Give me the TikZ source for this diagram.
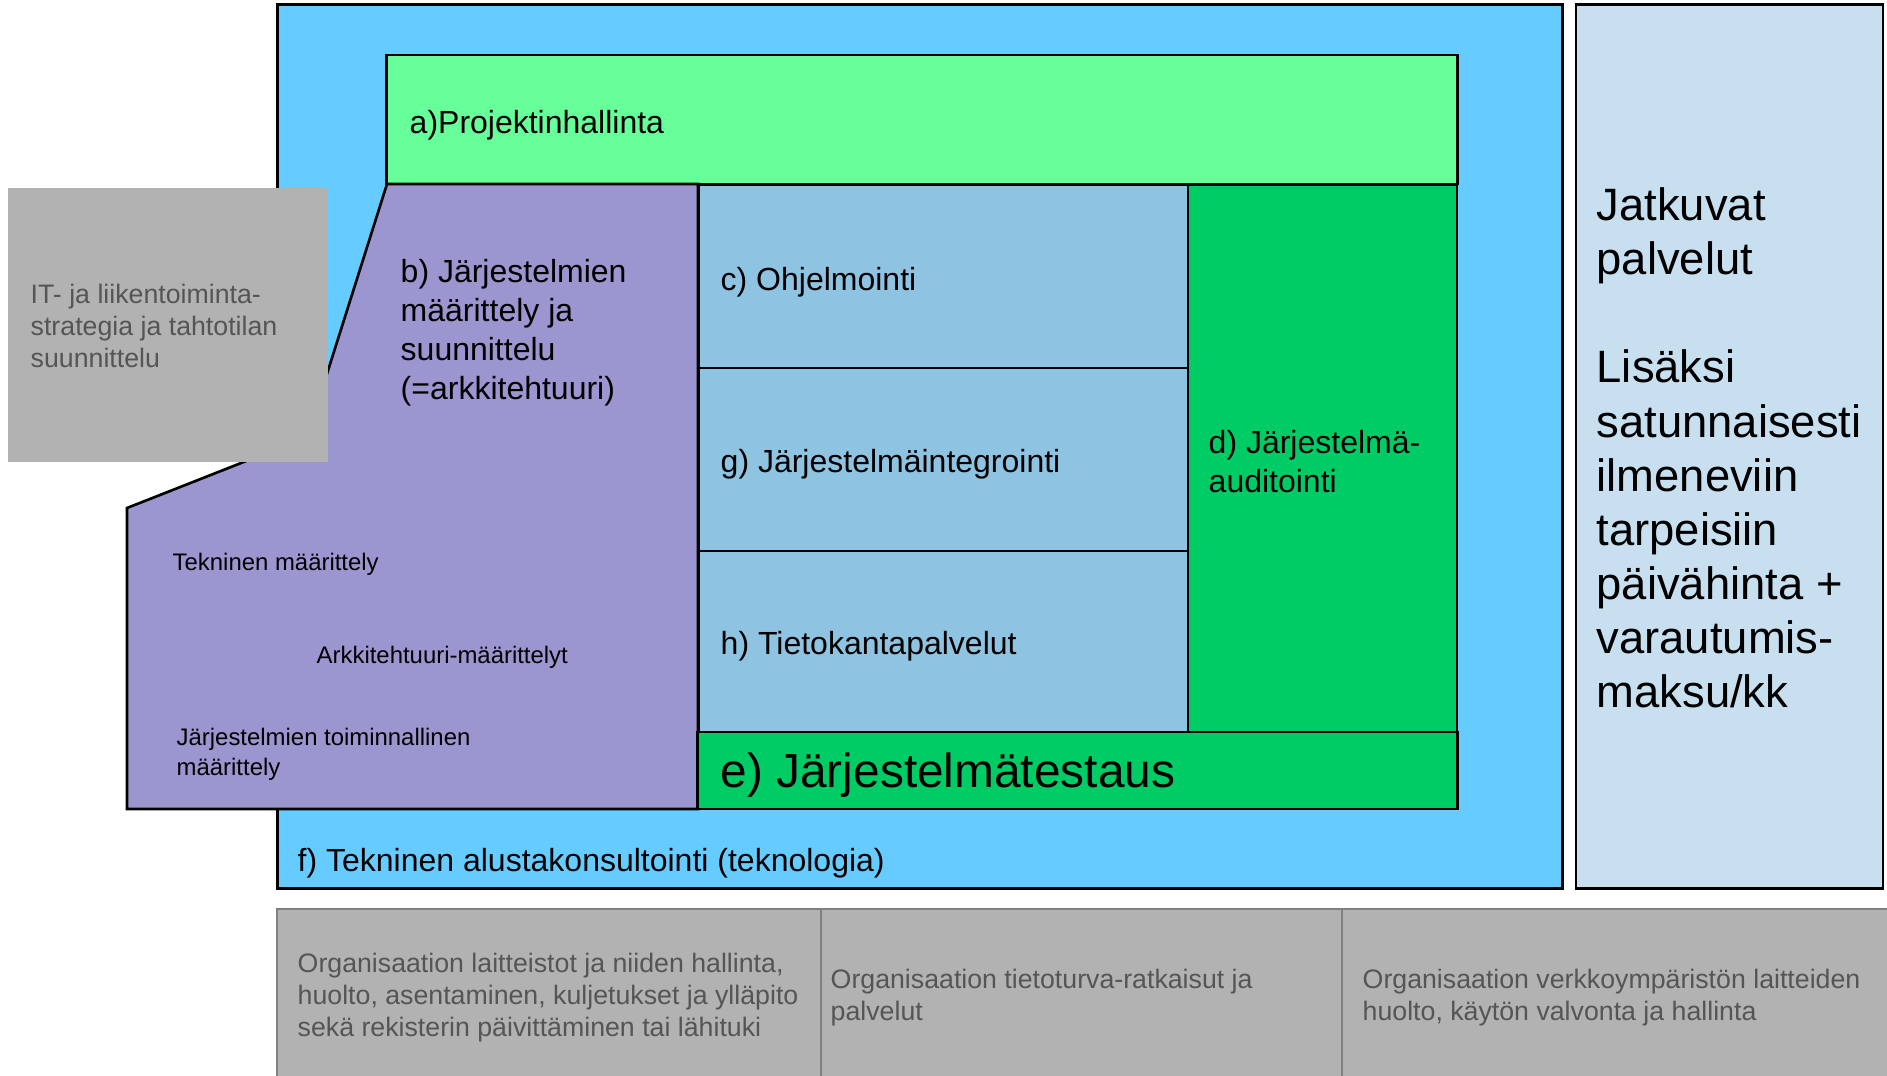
\documentclass[tikz,border=0pt]{standalone}
\usepackage{fontspec}
\setmainfont{Liberation Sans}
\usetikzlibrary{positioning}
\definecolor{ulkoSin}{HTML}{66CCFF}
\definecolor{vaaleaVihr}{HTML}{66FF99}
\definecolor{violetti}{HTML}{9B96CF}
\definecolor{teraSin}{HTML}{8EC3E1}
\definecolor{tummaVihr}{HTML}{00CC66}
\definecolor{jaaSin}{HTML}{C7DFEF}
\definecolor{harmaa}{HTML}{B2B2B2}
\definecolor{harmaaTeksti}{HTML}{555555}
\tikzstyle{myBox} = [rectangle, draw, line width=0.75pt, inner sep=0pt, outer sep=0pt]
\tikzstyle{greyBox} = [rectangle, fill=harmaa, draw=gray, line width=0.4pt, inner sep=0pt, outer sep=0pt]
\tikzstyle{myLabel} = [anchor=west, align=left, inner sep=0pt, font=\fontsize{9.1}{11.1}\selectfont]
\tikzstyle{smallLabel} = [anchor=west, align=left, inner sep=0pt, font=\fontsize{6.8}{8.5}\selectfont]
\tikzstyle{greyLabel} = [anchor=west, align=left, inner sep=0pt, text=harmaaTeksti, font=\fontsize{7.6}{9.1}\selectfont]

\begin{document}
\begin{tikzpicture}[x=0.01cm, y=-0.01cm]
		\useasboundingbox (0,0) rectangle (1887,1075);
		% taustalaatikot
		\node [myBox, fill=ulkoSin, minimum width=12.84cm, minimum height=8.83cm](f) at (920,446.5){};
		\node [myBox, fill=jaaSin, minimum width=3.07cm, minimum height=8.83cm](jp) at (1729.5,446.5){};
		\node [myBox, fill=vaaleaVihr, minimum width=10.70cm, minimum height=1.29cm](a) at (922,119.5){};
		% b) monikulmio, osittain harmaan alla
		\draw [line width=0.75pt, fill=violetti] (387,184) -- (698,184) -- (698,809) -- (127,809) -- (127,508) -- (307,437) -- cycle;
		\node [rectangle, fill=harmaa, minimum width=3.20cm, minimum height=2.74cm, inner sep=0pt](it) at (168,325){};
		% c, g, h pinottuna
		\node [myBox, fill=teraSin, minimum width=4.89cm, minimum height=1.83cm](c) at (943.5,276.5){};
		\node [myBox, fill=teraSin, minimum width=4.89cm, minimum height=1.83cm, below=0pt of c](g){};
		\node [myBox, fill=teraSin, minimum width=4.89cm, minimum height=1.81cm, below=0pt of g](h){};
		\node [myBox, fill=tummaVihr, minimum width=2.69cm, minimum height=5.47cm](d) at (1322.5,458.5){};
		\node [myBox, fill=tummaVihr, minimum width=7.59cm, minimum height=0.77cm](e) at (1077.5,770.5){};
		% alarivi
		\node [greyBox, minimum width=5.44cm, minimum height=1.71cm](o1) at (549,994.5){};
		\node [greyBox, minimum width=5.21cm, minimum height=1.71cm](o2) at (1081.5,994.5){};
		\node [greyBox, minimum width=5.48cm, minimum height=1.71cm](o3) at (1616,994.5){};
		
		\node [myLabel](ta) at (409,125){a)Projektinhallinta};
		\node [myLabel](tb) at (400,333){b) Järjestelmien\\määrittely ja\\suunnittelu\\(=arkkitehtuuri)};
		\node [myLabel](tc) at (720,282){c) Ohjelmointi};
		\node [myLabel](tg) at (720,464){g) Järjestelmäintegrointi};
		\node [myLabel](th) at (720,646){h) Tietokantapalvelut};
		\node [myLabel](td) at (1208,462){d) Järjestelmä-\\auditointi};
		\node [myLabel, font=\fontsize{13.6}{16}\selectfont](te) at (720,775){e) Järjestelmätestaus};
		\node [myLabel](tf) at (297,863){f) Tekninen alustakonsultointi (teknologia)};
		\node [myLabel, font=\fontsize{12.9}{15.4}\selectfont](tjp) at (1596,448){Jatkuvat\\palvelut\\[15.4pt]Lisäksi\\satunnaisesti\\ilmeneviin\\tarpeisiin\\päivähinta +\\varautumis-\\maksu/kk};
		\node [greyLabel](tit) at (30,326){IT- ja liikentoiminta-\\strategia ja tahtotilan\\suunnittelu};
		\node [smallLabel](tb1) at (172,564){Tekninen määrittely};
		\node [smallLabel](tb2) at (316,657){Arkkitehtuuri-määrittelyt};
		\node [smallLabel](tb3) at (176,754){Järjestelmien toiminnallinen\\määrittely};
		\node [greyLabel](to1) at (297,998){Organisaation laitteistot ja niiden hallinta,\\huolto, asentaminen, kuljetukset ja ylläpito\\sekä rekisterin päivittäminen tai lähituki};
		\node [greyLabel](to2) at (830,997.5){Organisaation tietoturva-ratkaisut ja\\palvelut};
		\node [greyLabel](to3) at (1362,997.5){Organisaation verkkoympäristön laitteiden\\huolto, käytön valvonta ja hallinta};
		
		\end{tikzpicture}
\end{document}
